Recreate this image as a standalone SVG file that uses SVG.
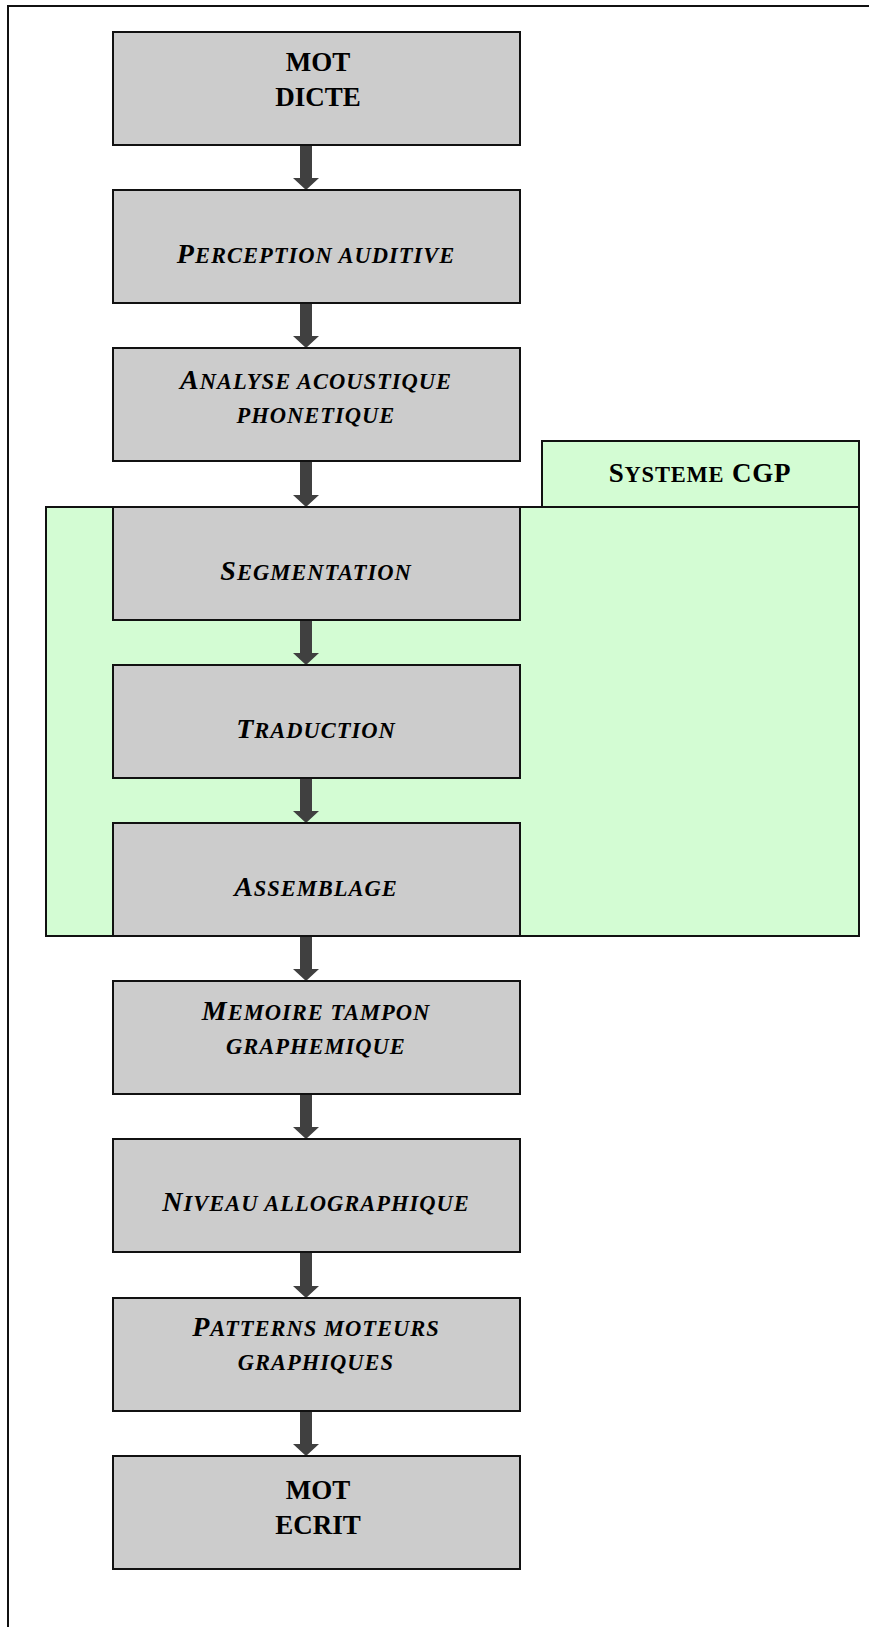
<svg xmlns="http://www.w3.org/2000/svg" width="869" height="1627" viewBox="0 0 869 1627">
<style>
.box{fill:#cccccc;stroke:#111;stroke-width:2}
.grp{fill:#d3fcd3;stroke:#111;stroke-width:2}
.t{font-family:"Liberation Serif","Times New Roman",serif;font-weight:bold;text-anchor:middle;fill:#000}
.b{font-size:27px}
.i{font-style:italic;font-size:28px;letter-spacing:1px}
.sc{font-size:22.5px}
.cgp{letter-spacing:0.8px}
.arr{fill:#404040}
</style>
<rect width="869" height="1627" fill="#fff"/>
<path d="M8,1627 V6 H869" fill="none" stroke="#111" stroke-width="2"/>
<g id="systeme-cgp">
<rect class="grp" x="46" y="507" width="813" height="429"/>
<rect class="grp" x="542" y="441" width="317" height="66"/>
<text class="t b cgp" x="700" y="482">S<tspan class="sc">YSTEME</tspan> CGP</text>
</g>
<g id="connectors">
<path class="arr" d="M300,144 V178 H293 L306,190 L319,178 H312 V144 Z"/>
<path class="arr" d="M300,302 V336 H293 L306,348 L319,336 H312 V302 Z"/>
<path class="arr" d="M300,460 V495 H293 L306,507 L319,495 H312 V460 Z"/>
<path class="arr" d="M300,619 V653 H293 L306,665 L319,653 H312 V619 Z"/>
<path class="arr" d="M300,777 V811 H293 L306,823 L319,811 H312 V777 Z"/>
<path class="arr" d="M300,935 V969 H293 L306,981 L319,969 H312 V935 Z"/>
<path class="arr" d="M300,1093 V1127 H293 L306,1139 L319,1127 H312 V1093 Z"/>
<path class="arr" d="M300,1251 V1286 H293 L306,1298 L319,1286 H312 V1251 Z"/>
<path class="arr" d="M300,1410 V1444 H293 L306,1456 L319,1444 H312 V1410 Z"/>
</g>
<g id="n1"><rect class="box" x="113" y="32" width="407" height="113"/>
<text class="t b" x="318" y="71">MOT</text><text class="t b" x="318" y="106">DICTE</text></g>
<g id="n2"><rect class="box" x="113" y="190" width="407" height="113"/>
<text class="t i" x="316" y="263">P<tspan class="sc">ERCEPTION AUDITIVE</tspan></text></g>
<g id="n3"><rect class="box" x="113" y="348" width="407" height="113"/>
<text class="t i" x="316" y="389">A<tspan class="sc">NALYSE ACOUSTIQUE</tspan></text>
<text class="t i" x="316" y="423"><tspan class="sc">PHONETIQUE</tspan></text></g>
<g id="n4"><rect class="box" x="113" y="507" width="407" height="113"/>
<text class="t i" x="316" y="580">S<tspan class="sc">EGMENTATION</tspan></text></g>
<g id="n5"><rect class="box" x="113" y="665" width="407" height="113"/>
<text class="t i" x="316" y="738">T<tspan class="sc">RADUCTION</tspan></text></g>
<g id="n6"><rect class="box" x="113" y="823" width="407" height="113"/>
<text class="t i" x="316" y="896">A<tspan class="sc">SSEMBLAGE</tspan></text></g>
<g id="n7"><rect class="box" x="113" y="981" width="407" height="113"/>
<text class="t i" x="316" y="1020">M<tspan class="sc">EMOIRE TAMPON</tspan></text>
<text class="t i" x="316" y="1054"><tspan class="sc">GRAPHEMIQUE</tspan></text></g>
<g id="n8"><rect class="box" x="113" y="1139" width="407" height="113"/>
<text class="t i" x="316" y="1211">N<tspan class="sc">IVEAU ALLOGRAPHIQUE</tspan></text></g>
<g id="n9"><rect class="box" x="113" y="1298" width="407" height="113"/>
<text class="t i" x="316" y="1336">P<tspan class="sc">ATTERNS MOTEURS</tspan></text>
<text class="t i" x="316" y="1370"><tspan class="sc">GRAPHIQUES</tspan></text></g>
<g id="n10"><rect class="box" x="113" y="1456" width="407" height="113"/>
<text class="t b" x="318" y="1499">MOT</text><text class="t b" x="318" y="1534">ECRIT</text></g>
</svg>
